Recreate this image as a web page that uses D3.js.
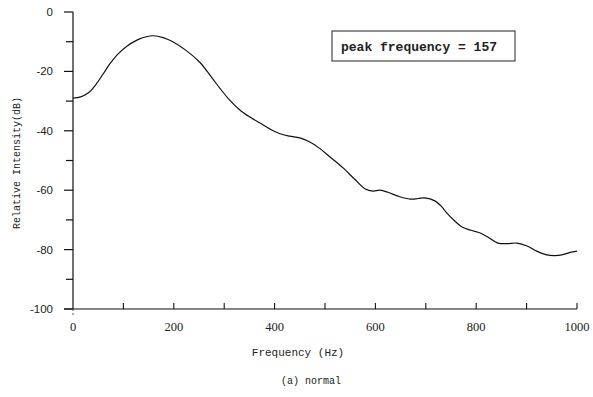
<!DOCTYPE html>
<html>
<head>
<meta charset="utf-8">
<script src="https://cdn.jsdelivr.net/npm/d3@7"></script>
<style>
  body { margin: 0; background: #fff; }
  svg text { fill: #222; }
</style>
</head>
<body>
<div id="chart"></div>
<script>
// Spectrum values
const freq = [0, 15, 30, 45, 60, 73, 90, 107, 130, 159, 180, 198, 225, 252, 275, 292, 310, 331, 350, 371, 390,
  411, 430, 450, 470, 490, 510, 536, 560, 580, 595, 609, 625, 645, 669, 685, 698, 718, 730, 742, 757,
  772, 790, 808, 825, 843, 860, 881, 901, 920, 940, 955, 970, 985, 1000];
const intensity = [-29, -28.6, -27.3, -24.5, -20.8, -17.5, -14, -11.5, -9.2, -8, -8.7, -10, -13, -17, -22, -25.8, -29.5, -33, -35.3, -37.4, -39.3,
  -41, -41.8, -42.4, -43.8, -46, -48.8, -52.5, -56.5, -59.6, -60.3, -60, -60.7, -62, -63, -62.8, -62.6, -63.6, -65.3, -67.7, -70.3,
  -72.4, -73.5, -74.4, -76, -77.8, -78, -77.8, -78.8, -80.5, -81.8, -82, -81.8, -81, -80.5];
const xTickLabels = [0, 200, 400, 600, 800, 1000];
const yTickLabels = [0, -20, -40, -60, -80, -100];
const peakLabel = "peak frequency = 157";

const width = 593;
const height = 397;

const svg = d3.select("#chart").append("svg")
    .attr("width", width)
    .attr("height", height);

const x = d3.scaleLinear().domain([0, 1000]).range([73, 577]);
const y = d3.scaleLinear().domain([-100, 0]).range([309, 12]);

const mono = "'Liberation Mono', 'DejaVu Sans Mono', monospace";

// y axis: line, ticks every 10 pointing left, labels every 20
svg.append("line")
    .attr("x1", x(0)).attr("x2", x(0))
    .attr("y1", y(0)).attr("y2", y(-100))
    .attr("stroke", "#111").attr("stroke-width", 1.2);

svg.selectAll(".ytick")
    .data(d3.range(0, -101, -10))
    .join("line")
    .attr("class", "ytick")
    .attr("x1", d => d % 20 === 0 ? x(0) - 9 : x(0) - 7)
    .attr("x2", x(0))
    .attr("y1", d => y(d)).attr("y2", d => y(d))
    .attr("stroke", "#111").attr("stroke-width", 1.2);

svg.selectAll(".ylabel")
    .data(yTickLabels)
    .join("text")
    .attr("class", "ylabel")
    .attr("x", 53)
    .attr("y", d => y(d) + 4)
    .attr("text-anchor", "end")
    .style("font-family", "'Liberation Sans', Arial, sans-serif")
    .style("font-size", "11.5px")
    .text(d => d);

// x axis: line, ticks every 100 pointing up, labels every 200
svg.append("line")
    .attr("x1", 64).attr("x2", x(1000))
    .attr("y1", y(-100)).attr("y2", y(-100))
    .attr("stroke", "#111").attr("stroke-width", 1.2);

svg.selectAll(".xtick")
    .data(d3.range(100, 1001, 100))
    .join("line")
    .attr("class", "xtick")
    .attr("x1", d => x(d)).attr("x2", d => x(d))
    .attr("y1", y(-100) - 6).attr("y2", y(-100))
    .attr("stroke", "#111").attr("stroke-width", 1.1);

svg.append("line")
    .attr("x1", x(0)).attr("x2", x(0))
    .attr("y1", y(-100)).attr("y2", y(-100) + 6)
    .attr("stroke", "#555").attr("stroke-width", 1)
    .attr("stroke-dasharray", "2,2");

svg.selectAll(".xlabel")
    .data(xTickLabels)
    .join("text")
    .attr("class", "xlabel")
    .attr("x", d => x(d))
    .attr("y", 331)
    .attr("text-anchor", "middle")
    .style("font-family", "'Liberation Serif', serif")
    .style("font-size", "12.5px")
    .text(d => d);

// axis titles
svg.append("text")
    .attr("x", 298).attr("y", 356)
    .attr("text-anchor", "middle")
    .style("font-family", mono)
    .style("font-size", "11px")
    .text("Frequency (Hz)");

svg.append("text")
    .attr("transform", "translate(20,163) rotate(-90)")
    .attr("text-anchor", "middle")
    .style("font-family", mono)
    .style("font-size", "10px")
    .text("Relative Intensity(dB)");

svg.append("text")
    .attr("x", 311).attr("y", 384)
    .attr("text-anchor", "middle")
    .style("font-family", mono)
    .style("font-size", "10px")
    .text("(a) normal");

// the curve
const line = d3.line()
    .x((d, i) => x(freq[i]))
    .y(d => y(d))
    .curve(d3.curveCatmullRom);

svg.append("path")
    .datum(intensity)
    .attr("d", line)
    .attr("fill", "none")
    .attr("stroke", "#111")
    .attr("stroke-width", 1.2);

// peak frequency box
svg.append("rect")
    .attr("x", 332).attr("y", 31)
    .attr("width", 183).attr("height", 30)
    .attr("fill", "#fff")
    .attr("stroke", "#222").attr("stroke-width", 1);

svg.append("text")
    .attr("x", 341).attr("y", 51)
    .style("font-family", mono)
    .style("font-size", "13px")
    .style("font-weight", "bold")
    .text(peakLabel);
</script>
</body>
</html>
